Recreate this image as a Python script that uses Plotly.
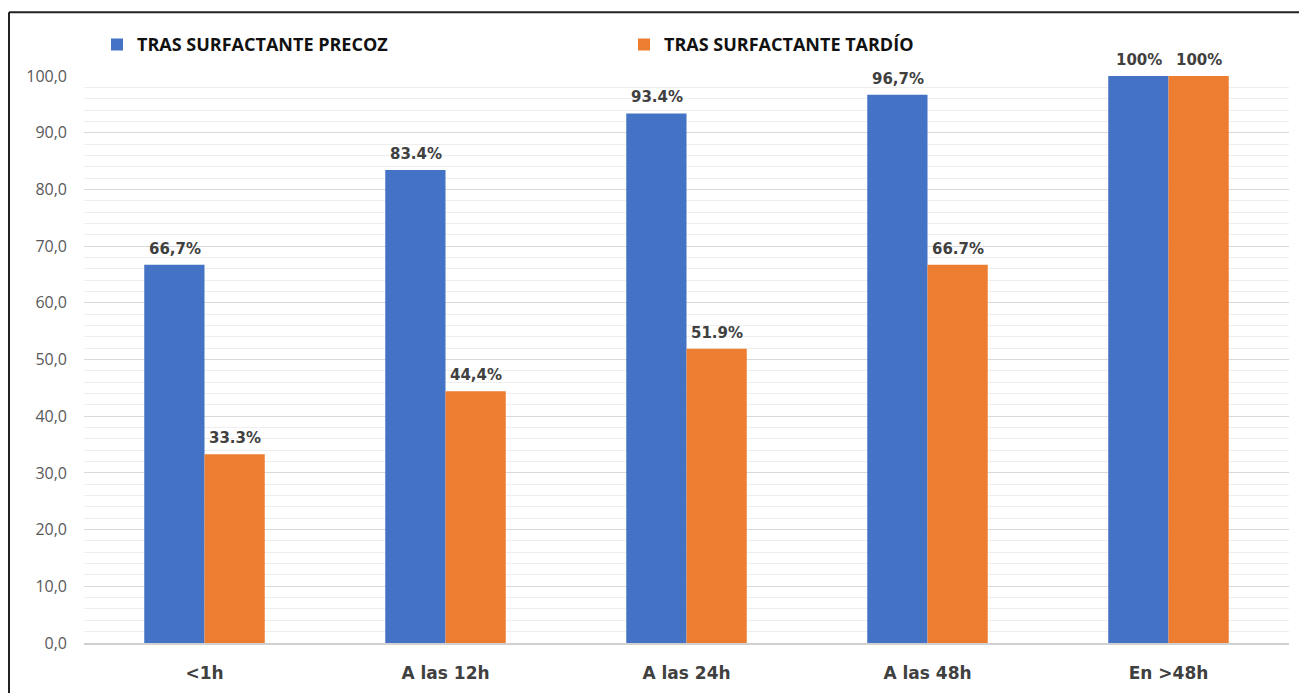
import plotly.graph_objects as go

categories = ["<1h", "A las 12h", "A las 24h", "A las 48h", "En >48h"]
precoz = [66.7, 83.4, 93.4, 96.7, 100]
tardio = [33.3, 44.4, 51.9, 66.7, 100]
precoz_labels = ["66,7%", "83.4%", "93.4%", "96,7%", "100%"]
tardio_labels = ["33.3%", "44,4%", "51.9%", "66.7%", "100%"]
series_names = ["TRAS SURFACTANTE PRECOZ", "TRAS SURFACTANTE TARDÍO"]
ytick_vals = [0, 10, 20, 30, 40, 50, 60, 70, 80, 90, 100]
ytick_text = ["0,0", "10,0", "20,0", "30,0", "40,0", "50,0", "60,0", "70,0", "80,0", "90,0", "100,0"]

BLUE = "#4472C4"
ORANGE = "#ED7D31"
label_font = dict(family="DejaVu Sans", size=15, color="#404040", weight="bold")

fig = go.Figure()
fig.add_trace(go.Bar(x=categories, y=precoz, name=series_names[0], marker_color=BLUE,
                     marker_line_width=0))
fig.add_trace(go.Bar(x=categories, y=tardio, name=series_names[1], marker_color=ORANGE,
                     marker_line_width=0))

L, R, T, B = 84, 10, 76, 47
W, H = 1299, 693
pw, ph = W - L - R, H - T - B

# value labels above each bar (half a bar width to each side of category centre)
half_bar = 30
annotations = []
for cat, v, t in zip(categories, precoz, precoz_labels):
    annotations.append(dict(x=cat, y=v, text=t, showarrow=False, xshift=-half_bar,
                            yanchor="bottom", yshift=5, font=label_font))
for cat, v, t in zip(categories, tardio, tardio_labels):
    annotations.append(dict(x=cat, y=v, text=t, showarrow=False, xshift=half_bar,
                            yanchor="bottom", yshift=5, font=label_font))

fig.update_layout(
    width=W, height=H,
    margin=dict(l=L, r=R, t=T, b=B, pad=0),
    paper_bgcolor="white", plot_bgcolor="white",
    barmode="group", bargap=0.5, bargroupgap=0,
    annotations=annotations,
    legend=dict(orientation="h", x=(97 - L) / pw, y=1 + (T - 26) / ph,
                xanchor="left", yanchor="top",
                font=dict(family="Open Sans", size=18, color="#111111", weight="bold"),
                entrywidth=482, entrywidthmode="pixels", bgcolor="rgba(0,0,0,0)",
                traceorder="normal"),
    xaxis=dict(showline=True, linecolor="#d0d0d0", linewidth=2, ticks="",
               tickfont=dict(family="DejaVu Sans", size=17, color="#404040", weight="bold"),
               ticklabelstandoff=14, showgrid=False),
    yaxis=dict(range=[0, 100], tickvals=ytick_vals, ticktext=ytick_text,
               tickfont=dict(family="Open Sans", size=16, color="#595959"),
               showgrid=True, gridcolor="#d9d9d9", gridwidth=1,
               minor=dict(dtick=2, showgrid=True, gridcolor="#eeeeee", gridwidth=1),
               zeroline=False, showline=False, ticks="", ticklabelstandoff=16),
    shapes=[
        dict(type="line", xref="paper", yref="paper",
             x0=(9 - L) / pw, x1=(W + 5 - L) / pw, y0=1 + (T - 12) / ph, y1=1 + (T - 12) / ph,
             line=dict(color="#222222", width=2)),
        dict(type="line", xref="paper", yref="paper",
             x0=(9 - L) / pw, x1=(9 - L) / pw, y0=1 + (T - 12) / ph, y1=-(B + 5) / ph,
             line=dict(color="#222222", width=2)),
    ],
)

fig.write_html("out.html")
